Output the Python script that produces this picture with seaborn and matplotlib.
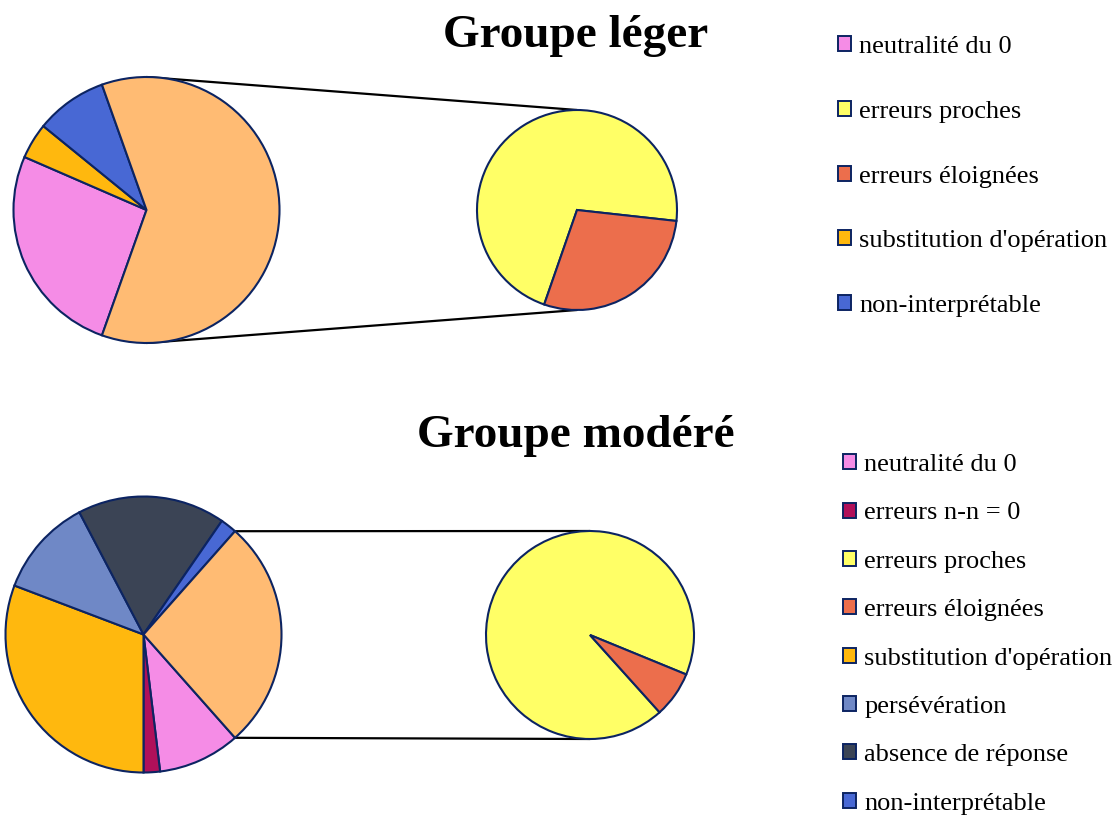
import numpy as np
import matplotlib
matplotlib.use("Agg")
import matplotlib.pyplot as plt
import seaborn as sns
from matplotlib.patches import Patch, ConnectionPatch

# Data: counts per error category
leger_labels = ['neutralité du 0', 'erreurs proches', 'erreurs éloignées',
                "substitution d'opération", 'non-interprétable']
leger_counts = [6, 10, 4, 1, 2]

modere_labels = ['neutralité du 0', 'erreurs n-n = 0', 'erreurs proches',
                 'erreurs éloignées', "substitution d'opération",
                 'persévération', 'absence de réponse', 'non-interprétable']
modere_counts = [5, 1, 13, 1, 16, 6, 9, 1]

# categories moved into the secondary pie
split_labels = ['erreurs proches', 'erreurs éloignées']

colors = {
    'neutralité du 0': '#F58CE6',
    'erreurs n-n = 0': '#B0105A',
    'erreurs proches': '#FFFF66',
    'erreurs éloignées': '#EC6E4C',
    "substitution d'opération": '#FFB80E',
    'persévération': '#6F88C6',
    'absence de réponse': '#3B4455',
    'non-interprétable': '#4868D4',
    'autres': '#FFBB73',
}
edge = '#0C2462'

sns.set_theme(style='white')
plt.rcParams['font.family'] = ['Liberation Serif', 'DejaVu Serif']
plt.rcParams['text.color'] = 'black'

W, H = 1116, 816
fig = plt.figure(figsize=(W / 100, H / 100), dpi=100)


def box(cx, cy, r):
    return [(cx - r) / W, (H - cy - r) / H, 2 * r / W, 2 * r / H]


def pie_of_pie(main_box, sec_box, labels, counts, sec_start):
    main_lab = [l for l in labels if l not in split_labels]
    main_val = [c for l, c in zip(labels, counts) if l not in split_labels]
    sec_val = [c for l, c in zip(labels, counts) if l in split_labels]
    other = sum(sec_val)
    vals = main_val + [other]
    cols = [colors[l] for l in main_lab] + [colors['autres']]
    frac_o = other / sum(vals)

    ax1 = fig.add_axes(main_box)
    wedges, _ = ax1.pie(vals, colors=cols, startangle=360 - 180 * frac_o,
                        counterclock=False,
                        wedgeprops=dict(edgecolor=edge, linewidth=1.5))
    ax2 = fig.add_axes(sec_box)
    ax2.pie(sec_val, colors=[colors[l] for l in split_labels],
            startangle=sec_start,
            wedgeprops=dict(edgecolor=edge, linewidth=1.5))
    for ax in (ax1, ax2):
        ax.set_xlim(-1, 1)
        ax.set_ylim(-1, 1)
        ax.set_aspect('equal')
        ax.axis('off')
        ax.patch.set_alpha(0)
        for w in ax.patches:
            w.set_clip_on(False)

    # connector lines
    ow = wedges[-1]
    if ow.theta2 - ow.theta1 > 180:
        angs = [90, 270]
    else:
        angs = [ow.theta2, ow.theta1]
    for a, yb in zip(angs, [1, -1]):
        pa = (np.cos(np.radians(a)), np.sin(np.radians(a)))
        con = ConnectionPatch(xyA=pa, coordsA=ax1.transData,
                              xyB=(0, yb), coordsB=ax2.transData,
                              color='black', lw=1.6, zorder=-1)
        fig.add_artist(con)


pie_of_pie(box(146.5, 210, 133), box(577, 210, 100),
           leger_labels, leger_counts, -6.3)
pie_of_pie(box(143.5, 634.5, 138), box(590, 635, 104),
           modere_labels, modere_counts, -22.3)

fig.text(576 / W, 1 - 47 / H, 'Groupe léger', ha='center', va='baseline',
         fontsize=34, fontweight='bold', color='black')
fig.text(576 / W, 1 - 447 / H, 'Groupe modéré', ha='center', va='baseline',
         fontsize=34, fontweight='bold', color='black')


def legend(labels, x, y, spacing):
    handles = [Patch(facecolor=colors[l], edgecolor=edge, linewidth=1.4)
               for l in labels]
    fig.legend(handles, labels, loc='upper left', bbox_to_anchor=(x, y),
               frameon=False, fontsize=19, handlelength=0.5,
               handleheight=0.5, handletextpad=0.3, labelspacing=spacing,
               borderpad=0, borderaxespad=0, labelcolor='black')


legend(leger_labels, 838 / W, 1 - 36 / H, 1.62)
legend(modere_labels, 843 / W, 1 - 454 / H, 1.0)

fig.savefig('out.png', dpi=100)
